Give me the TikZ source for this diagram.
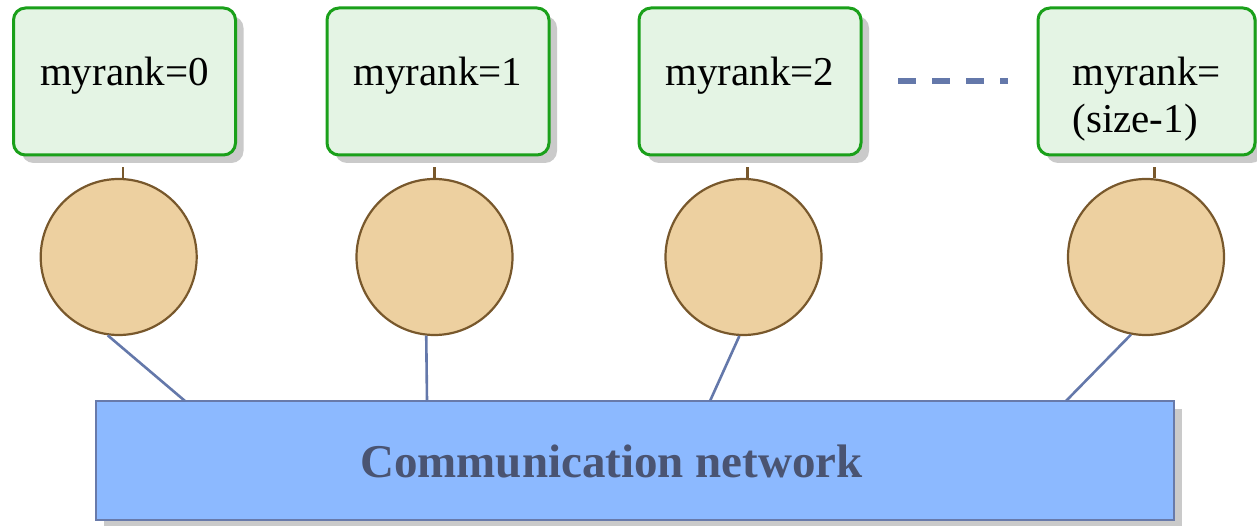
\documentclass[tikz,border=0pt]{standalone}
\usepackage{fontspec}
\setmainfont{Liberation Serif}
\usetikzlibrary{shadows}

\definecolor{rankfill}{RGB}{228,244,228}
\definecolor{rankline}{RGB}{26,160,26}
\definecolor{procfill}{RGB}{237,208,160}
\definecolor{procline}{RGB}{120,88,44}
\definecolor{netfill}{RGB}{140,185,255}
\definecolor{netline}{RGB}{104,122,170}
\definecolor{nettext}{RGB}{74,84,114}
\definecolor{linkline}{RGB}{100,120,170}
\definecolor{shadowgray}{RGB}{202,202,202}

\begin{document}
\begin{tikzpicture}[x=1pt,y=-1pt,
  rankbox/.style={draw=rankline, line width=3pt, fill=rankfill, rounded corners=12pt,
    minimum width=222pt, minimum height=147pt, inner sep=0pt, text height=30pt, text depth=21pt,
    font=\fontsize{41}{47}\selectfont,
    drop shadow={shadow xshift=8pt, shadow yshift=-8pt, fill=shadowgray, opacity=1}},
  proc/.style={circle, draw=procline, line width=2.2pt, fill=procfill, minimum size=156pt, inner sep=0pt},
  netbox/.style={draw=netline, line width=2pt, fill=netfill, minimum width=1078pt, minimum height=119pt,
    drop shadow={shadow xshift=8pt, shadow yshift=-8pt, fill=shadowgray, opacity=1}},
  stub/.style={draw=procline, line width=2.5pt, shorten >=11pt},
  link/.style={draw=linkline, line width=2.6pt},
  dotsline/.style={draw=linkline, line width=6pt, dash pattern=on 18pt off 16pt}]
\useasboundingbox (0,0) rectangle (1257,526);

% Rank boxes
\node[rankbox] (b0) at (124.5,81.5) {myrank=0};
\node[rankbox] (b1) at (438,81.5) {myrank=1};
\node[rankbox] (b2) at (750,81.5) {myrank=2};
\node[rankbox, minimum width=217pt] (b3) at (1146.5,81.5) {\parbox[t]{148pt}{\raggedright myrank=\\(size-1)}};

% Dots between box 2 and last box
\coordinate (dotsL) at (898,81.5);
\coordinate (dotsR) at (1008,81.5);
\draw[dotsline] (dotsL) -- (dotsR);

% Processes
\node[proc] (c0) at (118.7,257) {};
\node[proc] (c1) at (434.5,257) {};
\node[proc] (c2) at (743.5,257) {};
\node[proc] (c3) at (1146,257) {};

% Network
\node[netbox] (net) at (634.9,460.5) {};
\node[anchor=base, text=nettext, font=\fontsize{47}{56}\selectfont\bfseries] (nettxt) at (611.5,477) {Communication network};

% Stubs from process to box
\draw[stub] (c0.87) -- (c0.87 |- b0.south);
\draw[stub] (c1.90) -- (c1.90 |- b1.south);
\draw[stub] (c2.87.4) -- (c2.87.4 |- b2.south);
\draw[stub] (c3.84.9) -- (c3.84.9 |- b3.south);

% Links to network
\coordinate (n0) at (185,401);
\coordinate (n1) at (427,401);
\coordinate (n2) at (710,401);
\coordinate (n3) at (1066,401);
\draw[link] (c0.262.3) -- (n0);
\draw[link] (c1.264.5) -- (n1);
\draw[link] (c2.267.4) -- (n2);
\draw[link] (c3.259.7) -- (n3);

\end{tikzpicture}
\end{document}
